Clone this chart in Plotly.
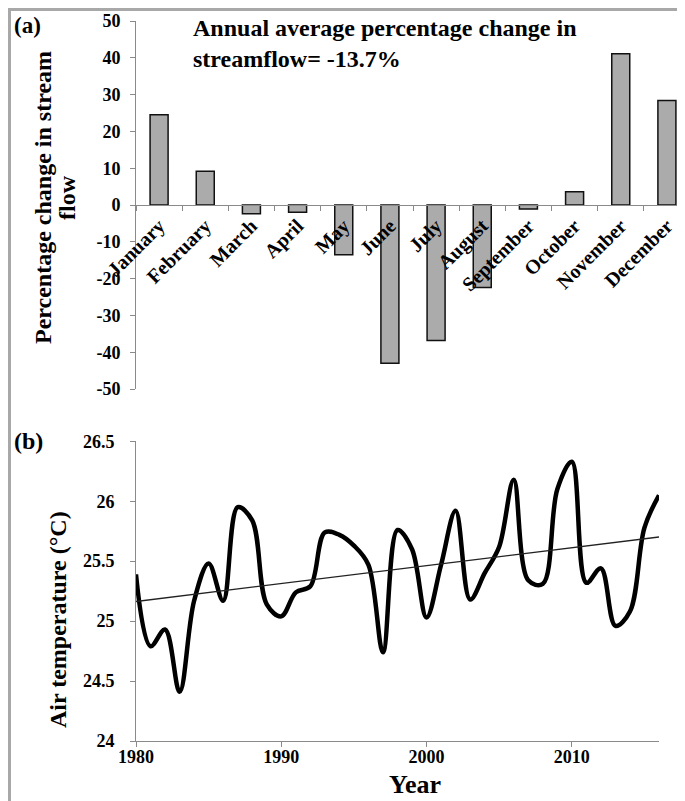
import numpy as np
import plotly.graph_objects as go

# ---------------- data ----------------
months = ["January", "February", "March", "April", "May", "June", "July",
          "August", "September", "October", "November", "December"]
flow_change = [24.5, 9.2, -2.4, -2.0, -13.5, -43.0, -36.8, -22.4, -1.1, 3.6, 41.1, 28.4]

years = list(range(1980, 2017))
air_temp = [25.39, 24.79, 24.93, 24.41, 25.17, 25.48, 25.17, 25.95, 25.84, 25.14,
            25.04, 25.24, 25.29, 25.74, 25.72, 25.63, 25.47, 24.74, 25.76, 25.60,
            25.03, 25.47, 25.92, 25.18, 25.40, 25.62, 26.18, 25.34, 25.31, 26.10,
            26.33, 25.32, 25.44, 24.96, 25.08, 25.78, 26.05]

y1_ticks = [-50, -40, -30, -20, -10, 0, 10, 20, 30, 40, 50]
y2_ticks = [24, 24.5, 25, 25.5, 26, 26.5]
x2_ticks = [1980, 1990, 2000, 2010]

# linear trend from data
coef = np.polyfit(years, air_temp, 1)
trend_x = [years[0], years[-1]]
trend_y = list(np.polyval(coef, trend_x))

# ---------------- layout geometry ----------------
W, H = 685, 801
ML, MR, MT, MB = 128, 3, 13, 68
PW = W - ML - MR
PH = H - MT - MB


def px(xp):
    return (xp - ML) / PW


def py(yp):
    return (H - MB - yp) / PH


FONT = "Liberation Serif"
AX = "#8a8a8a"

fig = go.Figure()
fig.add_trace(go.Bar(
    x=months, y=flow_change, xaxis="x", yaxis="y",
    marker=dict(color="#ababab", line=dict(color="#111111", width=1.5)),
    hoverinfo="x+y"))
fig.add_trace(go.Scatter(
    x=years, y=air_temp, xaxis="x2", yaxis="y2", mode="lines",
    line=dict(color="black", width=4.5, shape="spline", smoothing=1)))
fig.add_trace(go.Scatter(
    x=trend_x, y=trend_y, xaxis="x2", yaxis="y2", mode="lines",
    line=dict(color="#222222", width=1.3)))

top_bottom = py(381)
zero_pos = py(197.3)

tick_font = dict(family=FONT, size=18, color="black", weight="bold")

fig.update_layout(
    width=W, height=H,
    margin=dict(l=ML, r=MR, t=MT, b=MB, pad=0),
    paper_bgcolor="white", plot_bgcolor="white",
    showlegend=False, bargap=0.61,
    font=dict(family=FONT, color="black"),
    xaxis=dict(domain=[0, 1], anchor="free", position=zero_pos,
               type="category", range=[-0.5, 11.5],
               tickson="boundaries", ticks="outside", ticklen=5,
               tickcolor=AX, showline=True, linecolor=AX, linewidth=1,
               tickangle=-45, showgrid=False, zeroline=False,
               tickfont=dict(family=FONT, size=20, color="black", weight="bold")),
    yaxis=dict(domain=[top_bottom, 1], anchor="x", range=[-50, 50],
               tickvals=y1_ticks, ticktext=[f"{v:g}" for v in y1_ticks],
               ticks="outside", ticklen=5, tickcolor=AX,
               showline=True, linecolor=AX, linewidth=1,
               showgrid=False, zeroline=False, ticklabelstandoff=6,
               tickfont=tick_font),
    xaxis2=dict(domain=[0, px(651)], anchor="y2", range=[1980, 2016],
                tickvals=x2_ticks, ticktext=[str(v) for v in x2_ticks],
                ticks="outside", ticklen=5, tickcolor=AX,
                showline=True, linecolor=AX, linewidth=1,
                showgrid=False, zeroline=False, ticklabelstandoff=-6,
                tickfont=tick_font),
    yaxis2=dict(domain=[0, py(433.3)], anchor="x2", range=[24, 26.5],
                tickvals=y2_ticks, ticktext=[f"{v:g}" for v in y2_ticks],
                ticks="outside", ticklen=5, tickcolor=AX,
                showline=True, linecolor=AX, linewidth=1,
                showgrid=False, zeroline=False, ticklabelstandoff=12,
                tickfont=tick_font),
)

ann_font = dict(family=FONT, size=24, color="black", weight="bold")
annotations = [
    dict(text="(a)", x=px(4), y=py(3), xanchor="left", yanchor="top",
         font=dict(family=FONT, size=23, color="black", weight="bold")),
    dict(text="(b)", x=px(4), y=py(433), xanchor="left", yanchor="middle"),
    dict(text="Annual average percentage change in<br>streamflow= -13.7%",
         x=px(183), y=py(5), xanchor="left", yanchor="top", align="left"),
    dict(text="Percentage change in stream", x=px(35), y=py(190),
         xanchor="center", yanchor="middle", textangle=-90),
    dict(text="flow", x=px(59), y=py(190),
         xanchor="center", yanchor="middle", textangle=-90),
    dict(text="Air temperature (°C)", x=px(50), y=py(612),
         xanchor="center", yanchor="middle", textangle=-90),
    dict(text="Year", x=px(407), y=py(776), xanchor="center", yanchor="middle",
         font=dict(family=FONT, size=26, color="black", weight="bold")),
]
for a in annotations:
    a.setdefault("font", ann_font)
    a.update(xref="paper", yref="paper", showarrow=False)
fig.update_layout(annotations=annotations)

fig.add_shape(type="rect", xref="paper", yref="paper",
              x0=px(1.5), x1=px(683.5), y0=py(799.5), y1=py(1.5),
              line=dict(color="#a8a8a8", width=3), fillcolor="rgba(0,0,0,0)",
              layer="above")

fig.write_html("out.html")
